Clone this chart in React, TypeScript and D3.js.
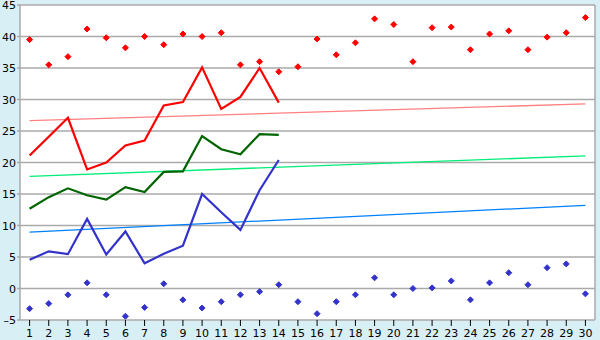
import React from "react";
import * as d3 from "d3";

const categories = d3.range(1, 31).map(String);
const redLine = [21.1, 24.1, 27.1, 18.9, 20.0, 22.7, 23.5, 29.05, 29.6, 35.1, 28.5, 30.4, 35.0, 29.5];
const greenLine = [12.65, 14.5, 15.9, 14.8, 14.1, 16.1, 15.3, 18.5, 18.6, 24.2, 22.1, 21.3, 24.5, 24.4];
const blueLine = [4.55, 5.9, 5.45, 11.05, 5.4, 9.05, 4.0, 5.5, 6.8, 15.0, 12.1, 9.3, 15.6, 20.4];
const redPoints = [39.5, 35.5, 36.8, 41.2, 39.8, 38.2, 40.0, 38.7, 40.4, 40.0, 40.6, 35.5, 36.0, 34.4, 35.2, 39.6, 37.1, 39.0, 42.8, 41.9, 36.0, 41.4, 41.5, 37.9, 40.4, 40.9, 37.9, 39.9, 40.6, 43.0];
const bluePoints = [-3.2, -2.4, -1.0, 0.9, -1.0, -4.4, -3.0, 0.75, -1.8, -3.1, -2.1, -1.0, -0.5, 0.6, -2.1, -4.0, -2.1, -1.0, 1.7, -1.0, 0.0, 0.1, 1.2, -1.8, 0.9, 2.5, 0.6, 3.3, 3.9, -0.85];
const redTrend = [26.65, 29.3];
const greenTrend = [17.8, 21.05];
const blueTrend = [8.95, 13.2];
const yTicks = [-5, 0, 5, 10, 15, 20, 25, 30, 35, 40, 45];

const W = 600, H = 340;
const left = 20, right = 595, top = 5, bottom = 320;

export default function App() {
  const x = d3.scaleBand<string>().domain(categories).range([left, right]);
  const y = d3.scaleLinear().domain([-5, 45]).range([bottom, top]);
  const cx = (i: number) => (x(categories[i]) as number) + x.bandwidth() / 2;
  const line = d3.line<number>().x((_, i) => cx(i)).y((d) => y(d));
  const font = "'DejaVu Sans', Verdana, sans-serif";
  const diamond = (px: number, py: number) =>
    `M${px},${py - 3}L${px + 3},${py}L${px},${py + 3}L${px - 3},${py}Z`;
  const trend = (t: number[], color: string) => (
    <line x1={cx(0)} x2={cx(29)} y1={y(t[0])} y2={y(t[1])} stroke={color} strokeWidth={1.3} />
  );
  return (
    <svg width={W} height={H} style={{ position: "absolute", left: 0, top: 0, display: "block" }}>
      <rect x={0} y={0} width={W} height={H} fill="#d9eff6" />
      <rect x={left} y={top} width={right - left} height={bottom - top} fill="#ffffff" />
      {yTicks.map((t) => (
        <g key={t}>
          <line x1={left - 3} x2={right} y1={y(t)} y2={y(t)} stroke="#aaaaaa" strokeWidth={1.5} />
          <text x={16} y={y(t) + 4} textAnchor="end" fontFamily={font} fontSize={11} fill="#000">
            {t < 0 ? "\u2013" + Math.abs(t) : t}
          </text>
        </g>
      ))}
      <line x1={left} x2={left} y1={top} y2={bottom} stroke="#aaaaaa" strokeWidth={1.5} />
      <line x1={right} x2={right} y1={top} y2={bottom} stroke="#aaaaaa" strokeWidth={1.5} />
      {categories.map((c, i) => (
        <g key={c}>
          <line x1={cx(i)} x2={cx(i)} y1={bottom} y2={bottom + 6} stroke="#000" strokeWidth={1} />
          <text x={cx(i)} y={337} textAnchor="middle" fontFamily={font} fontSize={11} fill="#000">
            {c}
          </text>
        </g>
      ))}
      {trend(redTrend, "#ff8080")}
      {trend(greenTrend, "#00ee77")}
      {trend(blueTrend, "#0080ff")}
      <path d={line(redLine) || ""} fill="none" stroke="#ff0000" strokeWidth={2.2} />
      <path d={line(greenLine) || ""} fill="none" stroke="#006400" strokeWidth={2.2} />
      <path d={line(blueLine) || ""} fill="none" stroke="#3333cc" strokeWidth={2.2} />
      {redPoints.map((v, i) => (
        <path key={"r" + i} d={diamond(cx(i), y(v))} fill="#ff0000" stroke="#ff0000" strokeWidth={1} />
      ))}
      {bluePoints.map((v, i) => (
        <path key={"b" + i} d={diamond(cx(i), y(v))} fill="#3333cc" stroke="#3333cc" strokeWidth={1} />
      ))}
    </svg>
  );
}
